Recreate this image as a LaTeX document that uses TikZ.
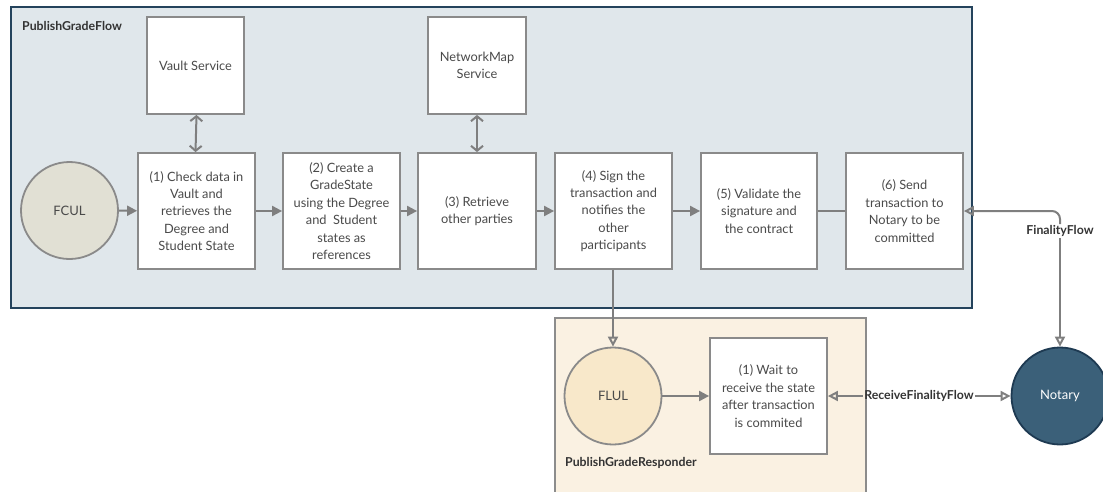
\documentclass[tikz,border=0pt]{standalone}
\usepackage{fontspec}
\setmainfont{Lato}
\usetikzlibrary{arrows.meta}
\definecolor{flowbg}{HTML}{E0E7EB}
\definecolor{flowedge}{HTML}{24435C}
\definecolor{respbg}{HTML}{FAF1E2}
\definecolor{respedge}{HTML}{8C8C8C}
\definecolor{boxedge}{HTML}{8A8A8A}
\definecolor{wire}{HTML}{7F7F7F}
\definecolor{txt}{HTML}{4A4A4A}
\definecolor{fculfill}{HTML}{E1E0D4}
\definecolor{flulfill}{HTML}{F8E8CA}
\definecolor{notaryfill}{HTML}{3B6079}
\definecolor{notaryedge}{HTML}{1E3A52}
\tikzset{
  stepbox/.style={draw=boxedge, line width=1.8pt, fill=white, align=center,
    minimum width=117pt, minimum height=116pt, inner sep=0pt, text=txt,
    font=\fontsize{12.8}{17.4}\selectfont},
  svcbox/.style={stepbox, minimum width=97pt, minimum height=97pt},
  actor/.style={circle, draw=boxedge, line width=1.8pt, minimum size=97pt,
    inner sep=0pt, text=txt, font=\fontsize{13}{15}\selectfont},
  grouptitle/.style={anchor=west, inner sep=0pt, text=black!80,
    font=\bfseries\fontsize{12.3}{14}\selectfont},
  flowlabel/.style={inner sep=1pt, text=black!80,
    font=\bfseries\fontsize{12.3}{14}\selectfont},
  wirestyle/.style={draw=wire, line width=2pt},
  solidtip/.style={wirestyle, -{Triangle[length=10pt,width=10pt]}},
  opentip/.style={wirestyle, -{Triangle[open,length=10pt,width=10pt]}},
  opentipstart/.style={wirestyle, {Triangle[open,length=10pt,width=10pt]}-},
  barbboth/.style={wirestyle, {Straight Barb[length=5pt,width=12pt]}-{Straight Barb[length=5pt,width=12pt]}},
}
\begin{document}
\begin{tikzpicture}[x=1pt, y=-1pt]
\useasboundingbox (0,0) rectangle (1103,491);

% group frames
\draw[fill=flowbg, draw=flowedge, line width=1.5pt] (11,7) rectangle (972,308);
\draw[fill=respbg, draw=respedge, line width=1.8pt] (555,318) rectangle (866,495);
\node[grouptitle] (flowtitle) at (22,26) {PublishGradeFlow};
\node[grouptitle] (resptitle) at (565,463) {PublishGradeResponder};

% initiator side
\node[actor, fill=fculfill] (fcul) at (69.5,210.5) {FCUL};
\node[stepbox] (s1) at (196.5,211) {(1) Check data in\\Vault and\\retrieves the\\Degree and\\Student State};
\node[stepbox] (s2) at (341.5,211) {(2) Create a\\GradeState\\using the Degree\\and\ \ Student\\states as\\references};
\node[stepbox, minimum width=118pt] (s3) at (477,211) {(3) Retrieve\\other parties};
\node[stepbox] (s4) at (613.5,211) {(4) Sign the\\transaction and\\notifies the\\other\\participants};
\node[stepbox, minimum width=116pt] (s5) at (759,211) {(5) Validate the\\signature and\\the contract};
\node[stepbox] (s6) at (904.5,211) {(6) Send\\transaction to\\Notary to be\\committed};
\node[svcbox] (vault) at (195.5,65.5) {Vault Service};
\node[svcbox, minimum width=98pt] (netmap) at (477,65.5) {NetworkMap\\Service};

% responder side
\node[actor, fill=flulfill] (flul) at (613,396) {FLUL};
\node[stepbox] (wait) at (768.5,396) {(1) Wait to\\receive the state\\after transaction\\is commited};
\node[actor, fill=notaryfill, draw=notaryedge, text=white] (notary) at (1060,396) {Notary};

% connector labels
\node[flowlabel] (ff) at (1060,231) {FinalityFlow};
\node[flowlabel] (rff) at (919,396) {ReceiveFinalityFlow};

% connectors
\draw[solidtip] (fcul) -- (s1);
\draw[solidtip] (s1) -- (s2);
\draw[solidtip] (s2) -- (s3);
\draw[solidtip] (s3) -- (s4);
\draw[solidtip] (s4) -- (s5);
\draw[wirestyle] (s5) -- (s6);
\draw[barbboth] (vault.south -| s1.north) -- (s1.north -| vault.south);
\draw[barbboth] (netmap) -- (s3);
\draw[opentip] (s4.south -| flul.north) -- (flul.north);
\draw[solidtip] (flul) -- (wait);
\draw[opentipstart, rounded corners=8pt] (s6.east) -| (ff.north);
\draw[opentip] (ff.south) -- (notary.north);
\draw[opentipstart] (wait.east) -- (rff.west);
\draw[opentip] (rff.east) -- (notary.west);
\end{tikzpicture}
\end{document}
